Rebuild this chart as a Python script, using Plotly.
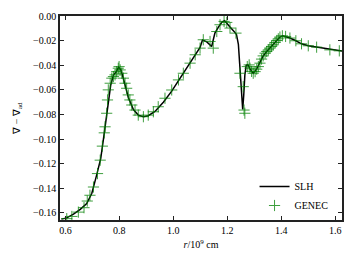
import plotly.graph_objects as go

# SLH model (solid black line)
slh_r = [0.585, 0.605, 0.630, 0.655, 0.679, 0.698, 0.716, 0.731, 0.741, 0.750, 0.759,
         0.768, 0.778, 0.788, 0.797, 0.806, 0.815, 0.833, 0.852, 0.870, 0.889, 0.907,
         0.932, 0.963, 0.994, 1.019, 1.037, 1.062, 1.081, 1.099, 1.108, 1.124, 1.142,
         1.154, 1.167, 1.180, 1.190, 1.200, 1.210, 1.225, 1.234, 1.241, 1.247, 1.252,
         1.257, 1.261, 1.265, 1.270, 1.276, 1.284, 1.296, 1.309, 1.321, 1.333, 1.346,
         1.358, 1.370, 1.383, 1.395, 1.405, 1.416, 1.432, 1.454, 1.475, 1.500, 1.531,
         1.580, 1.625]
slh_v = [-0.1650, -0.1640, -0.1610, -0.1570, -0.1524, -0.1440, -0.1290, -0.1157, -0.1000,
         -0.0860, -0.0700, -0.0560, -0.0480, -0.0455, -0.0415, -0.0440, -0.0510, -0.0660,
         -0.0760, -0.0805, -0.0818, -0.0810, -0.0775, -0.0700, -0.0610, -0.0525, -0.0465,
         -0.0380, -0.0315, -0.0255, -0.0195, -0.0210, -0.0248, -0.0139, -0.0090, -0.0050,
         -0.0038, -0.0060, -0.0090, -0.0125, -0.0150, -0.0230, -0.0400, -0.0600,
         -0.0760, -0.0640, -0.0480, -0.0400, -0.0395, -0.0430, -0.0465, -0.0430, -0.0380,
         -0.0325, -0.0288, -0.0261, -0.0234, -0.0199, -0.0171, -0.0161, -0.0166, -0.0179,
         -0.0201, -0.0226, -0.0242, -0.0253, -0.0275, -0.0285]

# GENEC model (green plus markers)
genec_r = [0.605, 0.624, 0.648, 0.669, 0.681, 0.691, 0.704, 0.719, 0.729, 0.737, 0.744,
           0.747, 0.753, 0.756, 0.759, 0.766, 0.772, 0.778, 0.784, 0.790, 0.796, 0.799,
           0.803, 0.809, 0.815, 0.821, 0.827, 0.833, 0.839, 0.846, 0.858, 0.870, 0.889,
           0.907, 0.926, 0.944, 0.969, 0.994, 1.019, 1.037, 1.062, 1.081, 1.099, 1.111,
           1.136, 1.148, 1.161, 1.173, 1.188, 1.198, 1.210, 1.232, 1.247, 1.259, 1.262,
           1.265, 1.274, 1.281, 1.284, 1.290, 1.296, 1.303, 1.309, 1.315, 1.321, 1.327,
           1.333, 1.340, 1.346, 1.352, 1.358, 1.364, 1.370, 1.377, 1.383, 1.389, 1.395,
           1.404, 1.416, 1.432, 1.454, 1.475, 1.500, 1.531, 1.580, 1.615]
genec_v = [-0.1646, -0.1628, -0.1593, -0.1557, -0.1503, -0.1456, -0.1389, -0.1280, -0.1171,
           -0.1057, -0.0949, -0.0900, -0.0790, -0.0682, -0.0600, -0.0546, -0.0505, -0.0492,
           -0.0478, -0.0452, -0.0424, -0.0411, -0.0438, -0.0465, -0.0505, -0.0546, -0.0587,
           -0.0641, -0.0682, -0.0723, -0.0764, -0.0805, -0.0818, -0.0805, -0.0778, -0.0737,
           -0.0668, -0.0601, -0.0519, -0.0465, -0.0383, -0.0315, -0.0261, -0.0193, -0.0207,
           -0.0261, -0.0126, -0.0071, -0.0044, -0.0052, -0.0098, -0.0139, -0.0465, -0.0574,
           -0.0764, -0.0790, -0.0411, -0.0397, -0.0424, -0.0450, -0.0465, -0.0452, -0.0432,
           -0.0411, -0.0383, -0.0350, -0.0324, -0.0302, -0.0288, -0.0275, -0.0261, -0.0248,
           -0.0234, -0.0215, -0.0199, -0.0185, -0.0171, -0.0161, -0.0166, -0.0179, -0.0201,
           -0.0226, -0.0242, -0.0253, -0.0275, -0.0283]

x_ticks = [0.6, 0.8, 1.0, 1.2, 1.4, 1.6]
y_ticks = [0.00, -0.02, -0.04, -0.06, -0.08, -0.10, -0.12, -0.14, -0.16]

FONT = "Liberation Serif"

fig = go.Figure()
fig.add_trace(go.Scatter(x=slh_r, y=slh_v, mode="lines", name="SLH",
                         line=dict(color="black", width=1.5)))
fig.add_trace(go.Scatter(x=genec_r, y=genec_v, mode="markers", name="GENEC",
                         marker=dict(symbol="cross-thin", size=8, color="green",
                                     opacity=0.75,
                                     line=dict(color="green", width=1))))

axis_common = dict(showline=True, linecolor="#222222", linewidth=1.5, mirror="ticks",
                   ticks="inside", ticklen=4, tickwidth=1, tickcolor="#222222",
                   showgrid=False, zeroline=False, automargin=False,
                   tickfont=dict(family=FONT, size=10, color="black"))

fig.update_layout(
    width=354, height=266,
    margin=dict(l=60, r=12, t=16, b=46),
    paper_bgcolor="white", plot_bgcolor="white",
    font=dict(family=FONT, size=10, color="black"),
    showlegend=True,
    legend=dict(x=0.97, y=0.0, xanchor="right", yanchor="bottom",
                bgcolor="rgba(0,0,0,0)", font=dict(family=FONT, size=10),
                itemwidth=30, tracegroupgap=0),
    xaxis=dict(range=[0.58, 1.625], tickvals=x_ticks, tickformat=".1f",
               title=dict(text="<i>r</i>/10<sup>9</sup> cm", standoff=6,
                          font=dict(family=FONT, size=10)),
               **axis_common),
    yaxis=dict(range=[-0.1657, 0.0], tickvals=y_ticks, tickformat=".2f",
               title=dict(text="∇ − ∇<sub>ad</sub>", standoff=11,
                          font=dict(family=FONT, size=10)),
               **axis_common),
)

fig.write_html("out.html", config={"displayModeBar": False},
               post_script="document.body.style.margin='0';")
